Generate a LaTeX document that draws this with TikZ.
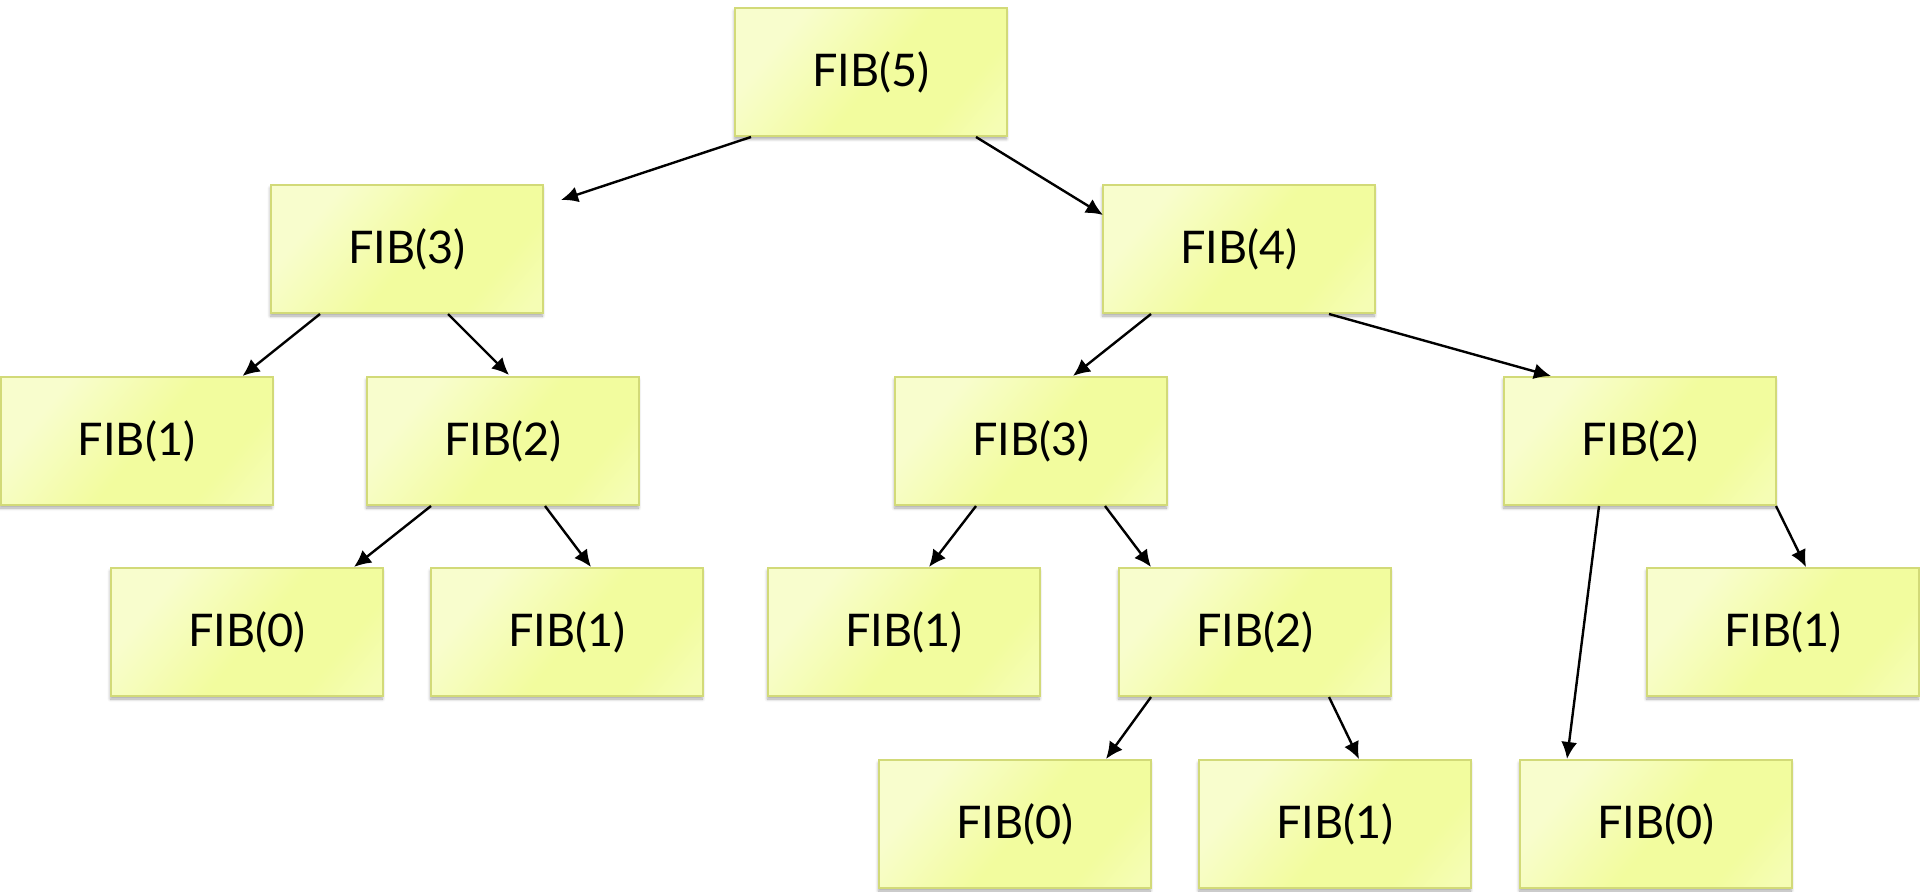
\documentclass[tikz,border=0pt]{standalone}
\usepackage{fontspec}
\setmainfont{Lato}
\usetikzlibrary{shadows.blur,calc,arrows.meta}
\definecolor{boxlt}{RGB}{248,253,205}
\definecolor{boxsat}{RGB}{242,252,158}
\definecolor{boxmid}{RGB}{245,253,180}
\definecolor{boxline}{RGB}{210,218,120}
\pgfdeclarehorizontalshading{boxshade}{100bp}{color(0bp)=(boxlt); color(28bp)=(boxlt); color(52bp)=(boxsat); color(70bp)=(boxsat); color(82bp)=(boxmid); color(100bp)=(boxmid)}
\tikzset{
  fibbox/.style={draw=boxline, line width=1pt, shading=boxshade, shading angle=-40,
    minimum width=136pt, minimum height=64pt, inner sep=0pt, outer sep=0pt,
    anchor=north west, font=\fontsize{22.5}{26}\selectfont,
    blur shadow={shadow xshift=-0.3pt, shadow yshift=-1.5pt, shadow blur radius=1.5pt, shadow opacity=35, shadow blur steps=6}},
  arr/.style={draw=black, line width=1.2pt, -{Latex[length=8.5pt,width=8pt]}}
}
\begin{document}
\begin{tikzpicture}[x=0.5pt,y=-0.5pt]
\useasboundingbox (0,0) rectangle (1920,892);
\node[fibbox] (fib5) at (735,8) {FIB(5)};
\node[fibbox] (fib3a) at (271,185) {FIB(3)};
\node[fibbox] (fib4) at (1103,185) {FIB(4)};
\node[fibbox] (fib1a) at (0.5,377) {FIB(1)};
\node[fibbox] (fib2a) at (367,377) {FIB(2)};
\node[fibbox] (fib3b) at (895,377) {FIB(3)};
\node[fibbox] (fib2b) at (1504,377) {FIB(2)};
\node[fibbox] (fib0a) at (111,568) {FIB(0)};
\node[fibbox] (fib1b) at (431,568) {FIB(1)};
\node[fibbox] (fib1c) at (768,568) {FIB(1)};
\node[fibbox] (fib2c) at (1119,568) {FIB(2)};
\node[fibbox] (fib1d) at (1647,568) {FIB(1)};
\node[fibbox] (fib0b) at (879,760) {FIB(0)};
\node[fibbox] (fib1e) at (1199,760) {FIB(1)};
\node[fibbox] (fib0c) at (1520,760) {FIB(0)};
% connectors
\draw[arr] ($(fib5.south west)+(16,1)$) -- ($(fib3a.north east)+(18,15)$);
\draw[arr] ($(fib5.south west)+(241,1)$) -- ($(fib4.north west)+(0,30)$);
\draw[arr] ($(fib3a.south west)+(49,1)$) -- ($(fib1a.north west)+(242,-1)$);
\draw[arr] ($(fib3a.south west)+(177,1)$) -- ($(fib2a.north west)+(142,-2)$);
\draw[arr] ($(fib2a.south west)+(64,1)$) -- ($(fib0a.north west)+(243,-1)$);
\draw[arr] ($(fib2a.south west)+(178,1)$) -- ($(fib1b.north west)+(160,-1)$);
\draw[arr] ($(fib4.south west)+(48,1)$) -- ($(fib3b.north west)+(178,-1)$);
\draw[arr] ($(fib4.south west)+(226,1)$) -- ($(fib2b.north west)+(47,-1)$);
\draw[arr] ($(fib3b.south west)+(81,1)$) -- ($(fib1c.north west)+(161,-1)$);
\draw[arr] ($(fib3b.south west)+(210,1)$) -- ($(fib2c.north west)+(32,-1)$);
\draw[arr] ($(fib2c.south west)+(32,1)$) -- ($(fib0b.north west)+(227,-1)$);
\draw[arr] ($(fib2c.south west)+(210,1)$) -- ($(fib1e.north west)+(160,-1)$);
\draw[arr] ($(fib2b.south west)+(95,1)$) -- ($(fib0c.north west)+(47,-1)$);
\draw[arr] ($(fib2b.south west)+(272,1)$) -- ($(fib1d.north west)+(159,-1)$);
\end{tikzpicture}
\end{document}
